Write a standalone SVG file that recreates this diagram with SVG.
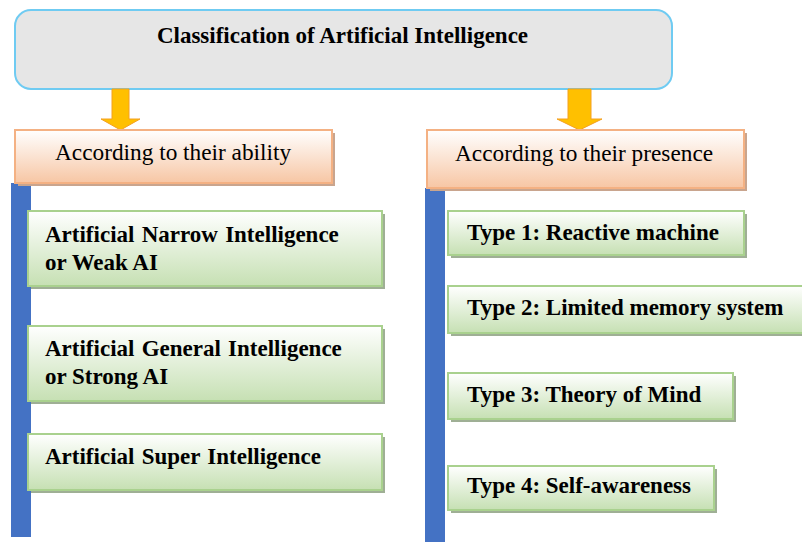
<svg xmlns="http://www.w3.org/2000/svg" width="802" height="542" viewBox="0 0 802 542">
<defs>
<linearGradient id="gOr" x1="0" y1="0" x2="0" y2="1">
<stop offset="0" stop-color="#FFFFFF"/>
<stop offset="1" stop-color="#F7C6A4"/>
</linearGradient>
<linearGradient id="gGr" x1="0" y1="0" x2="0" y2="1">
<stop offset="0" stop-color="#FFFFFF"/>
<stop offset="1" stop-color="#C6E0B3"/>
</linearGradient>
<style>
.title{font-family:"Liberation Serif","Times New Roman",serif;font-weight:bold;font-size:23px;fill:#000}
.cat{font-family:"Liberation Serif","Times New Roman",serif;font-size:23.3px;fill:#000}
.item{font-family:"Liberation Serif","Times New Roman",serif;font-weight:bold;font-size:23px;fill:#000}
.orb{fill:url(#gOr);stroke:#F4B183;stroke-width:2}
.grb{fill:url(#gGr);stroke:#A9D18E;stroke-width:2}
.osh{fill:#C9A58E}
.gsh{fill:#9FAF95}
.bar{fill:#4472C4}
.arr{fill:#FFC000;stroke:#F4A020;stroke-width:1}
</style>
</defs>
<rect width="802" height="542" fill="#FFFFFF"/>
<g id="title">
<rect x="15" y="10" width="657" height="79" rx="16" ry="16" fill="#E6E6E6" stroke="#6FCBF2" stroke-width="2"/>
<text class="title" x="342.5" y="43" text-anchor="middle">Classification of Artificial Intelligence</text>
</g>
<g id="connectors">
<polygon class="arr" points="112,89 129,89 129,119 140,119 120.5,130 101,119 112,119"/>
<polygon class="arr" points="568,89 591,89 591,119 602,119 579.5,130 557,119 568,119"/>
<rect class="bar" x="11" y="183" width="20" height="354"/>
<rect class="bar" x="425" y="188" width="20" height="354"/>
</g>
<g id="ability">
<rect class="osh" x="18" y="133" width="317" height="53"/>
<rect class="orb" x="15" y="130" width="317" height="53"/>
<text class="cat" x="55" y="160">According to their ability</text>
</g>
<g id="presence">
<rect class="osh" x="430" y="133" width="317" height="58"/>
<rect class="orb" x="427" y="130" width="317" height="58"/>
<text class="cat" x="455" y="161">According to their presence</text>
</g>
<g id="ani">
<rect class="gsh" x="31" y="214" width="354" height="75"/>
<rect class="grb" x="28" y="211" width="354" height="75"/>
<text class="item" x="45" y="242" word-spacing="1.5">Artificial Narrow Intelligence</text>
<text class="item" x="45" y="270">or Weak AI</text>
</g>
<g id="agi">
<rect class="gsh" x="31" y="329" width="354" height="75"/>
<rect class="grb" x="28" y="326" width="354" height="75"/>
<text class="item" x="45" y="356" word-spacing="1.5">Artificial General Intelligence</text>
<text class="item" x="45" y="384">or Strong AI</text>
</g>
<g id="asi">
<rect class="gsh" x="31" y="437" width="354" height="56"/>
<rect class="grb" x="28" y="434" width="354" height="56"/>
<text class="item" x="45" y="464" word-spacing="1.5">Artificial Super Intelligence</text>
</g>
<g id="type1">
<rect class="gsh" x="451" y="214" width="296" height="44"/>
<rect class="grb" x="448" y="211" width="296" height="44"/>
<text class="item" x="467" y="240">Type 1: Reactive machine</text>
</g>
<g id="type2">
<rect class="gsh" x="451" y="289" width="360" height="47"/>
<rect class="grb" x="448" y="286" width="360" height="47"/>
<text class="item" x="467" y="315">Type 2: Limited memory system</text>
</g>
<g id="type3">
<rect class="gsh" x="451" y="376" width="285" height="46"/>
<rect class="grb" x="448" y="373" width="285" height="46"/>
<text class="item" x="467" y="402">Type 3: Theory of Mind</text>
</g>
<g id="type4">
<rect class="gsh" x="451" y="469" width="266" height="44"/>
<rect class="grb" x="448" y="466" width="266" height="44"/>
<text class="item" x="467" y="493">Type 4: Self-awareness</text>
</g>
</svg>
